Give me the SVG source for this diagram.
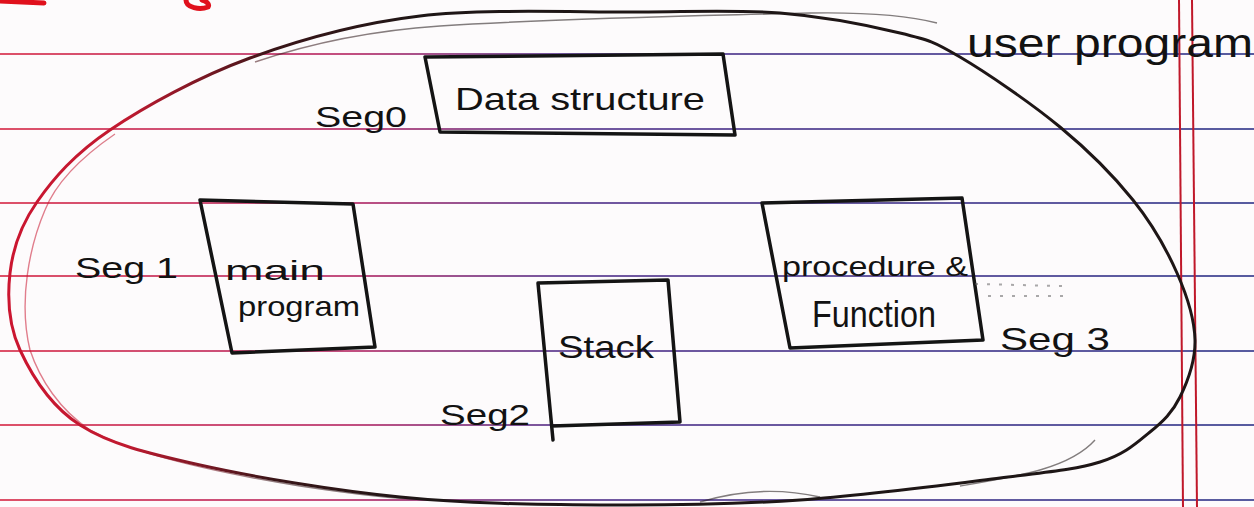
<svg xmlns="http://www.w3.org/2000/svg" width="1254" height="507" viewBox="0 0 1254 507">
  <defs>
    <linearGradient id="ruleInk" gradientUnits="userSpaceOnUse" x1="0" y1="0" x2="1254" y2="0">
      <stop offset="0" stop-color="#d8324e"/>
      <stop offset="0.28" stop-color="#b8306a"/>
      <stop offset="0.45" stop-color="#5a3a90"/>
      <stop offset="1" stop-color="#3a3f8f"/>
    </linearGradient>
    <linearGradient id="ovalInk" gradientUnits="userSpaceOnUse" x1="0" y1="0" x2="420" y2="0">
      <stop offset="0" stop-color="#cc1530"/>
      <stop offset="0.3" stop-color="#c01a30"/>
      <stop offset="0.65" stop-color="#3a1518"/>
      <stop offset="1" stop-color="#1e1616"/>
    </linearGradient>
    <style>
      .rule { stroke: url(#ruleInk); stroke-width: 2; opacity: 0.85; fill: none; }
      .margin { stroke: #c0182a; stroke-width: 2; fill: none; }
      .oval { fill: none; stroke: url(#ovalInk); stroke-width: 3; stroke-linejoin: round; }
      .oval2 { fill: none; stroke: url(#ovalInk); stroke-width: 1.4; opacity: 0.55; }
      .box { fill: none; stroke: #141414; stroke-width: 3.5; stroke-linejoin: round; stroke-linecap: round; }
      .hand { font-family: "Liberation Sans", "DejaVu Sans", sans-serif; fill: #121212; }
      .red { fill: none; stroke: #e0101c; stroke-width: 5; stroke-linecap: round; }
    </style>
  </defs>

  <!-- paper -->
  <rect x="0" y="0" width="1254" height="507" fill="#fdfbfc"/>

  <!-- ruled lines -->
  <g id="ruling">
    <line class="rule" x1="0" y1="54" x2="1254" y2="54"/>
    <line class="rule" x1="0" y1="129" x2="1254" y2="129"/>
    <line class="rule" x1="0" y1="203" x2="1254" y2="203"/>
    <line class="rule" x1="0" y1="276" x2="1254" y2="276"/>
    <line class="rule" x1="0" y1="351" x2="1254" y2="351"/>
    <line class="rule" x1="0" y1="425" x2="1254" y2="425"/>
    <line class="rule" x1="0" y1="500" x2="1254" y2="500"/>
    <line class="margin" x1="1179" y1="0" x2="1183" y2="507"/>
    <line class="margin" x1="1192" y1="0" x2="1197" y2="507"/>
  </g>

  <!-- red pen marks at the top edge -->
  <g id="red-marks">
    <path class="red" d="M0,1 L44,3"/>
    <path class="red" d="M186,0 C186,8 200,10 208,7 C210,4 206,1 202,0"/>
  </g>

  <!-- outer boundary: user program -->
  <g id="user-program">
    <path class="oval" d="M640,12 C580,12.5 485,8.3 420,16 C355,23.7 301.7,39 250,58 C198.3,77 145.5,106 110,130 C74.5,154 53.7,178.2 37,202 C20.3,225.8 12.8,248.3 10,273 C7.2,297.7 8.3,324.7 20,350 C31.7,375.3 50,405.8 80,425 C110,444.2 146.7,453 200,465 C253.3,477 333.3,490.3 400,497 C466.7,503.7 533.3,504.5 600,505 C666.7,505.5 733.3,504.5 800,500 C866.7,495.5 950,484.3 1000,478 C1050,471.7 1075,469.7 1100,462 C1125,454.3 1136.7,442.8 1150,432 C1163.3,421.2 1172.5,412.3 1180,397 C1187.5,381.7 1195.5,360.7 1195,340 C1194.5,319.3 1187.3,296.3 1177,273 C1166.7,249.7 1152.5,224.3 1133,200 C1113.5,175.7 1088.8,150.8 1060,127 C1031.2,103.2 986.7,72.7 960,57 C933.3,41.3 930,40.3 900,33 C870,25.7 823.3,16.5 780,13 C736.7,9.5 700,11.5 640,12 Z"/>
    <!-- second pass of the pen -->
    <path class="oval2" d="M255,62 C320,40 380,30 440,26 C560,18 700,16 810,13 C870,12 910,16 937,23"/>
    <path class="oval2" d="M115,134 C80,158 55,185 45,210 C30,245 18,300 30,350 C40,380 60,410 90,430 C130,452 200,470 300,486 C360,495 400,499 420,499"/>
    <path class="oval2" d="M700,502 C740,490 780,488 820,497"/>
    <path class="oval2" d="M960,486 C1020,476 1070,468 1095,440"/>
    <text class="hand" x="967" y="57" font-size="40" textLength="286" lengthAdjust="spacingAndGlyphs">user program</text>
  </g>

  <!-- segment 0 -->
  <g id="seg0">
    <path class="box" d="M425,57 L723,54 L735,135 L440,132 Z"/>
    <text class="hand" x="455" y="110" font-size="32" textLength="250" lengthAdjust="spacingAndGlyphs">Data structure</text>
    <text class="hand" x="315" y="127" font-size="30" textLength="92" lengthAdjust="spacingAndGlyphs">Seg0</text>
  </g>

  <!-- segment 1 -->
  <g id="seg1">
    <path class="box" d="M200,200 L353,204 L375,347 L232,353 Z"/>
    <text class="hand" x="225" y="280" font-size="28" textLength="100" lengthAdjust="spacingAndGlyphs">main</text>
    <text class="hand" x="238" y="316" font-size="28" textLength="122" lengthAdjust="spacingAndGlyphs">program</text>
    <text class="hand" x="75" y="278" font-size="30" textLength="103" lengthAdjust="spacingAndGlyphs">Seg 1</text>
  </g>

  <!-- segment 2 -->
  <g id="seg2">
    <path class="box" d="M553,440 L538,283 L668,280 L680,422 L552,426"/>
    <text class="hand" x="558" y="358" font-size="32" textLength="96" lengthAdjust="spacingAndGlyphs">Stack</text>
    <text class="hand" x="440" y="425" font-size="30" textLength="90" lengthAdjust="spacingAndGlyphs">Seg2</text>
  </g>

  <!-- segment 3 -->
  <g id="seg3">
    <path class="box" d="M762,203 L962,198 L983,340 L790,348 Z"/>
    <text class="hand" x="782" y="276" font-size="28" textLength="186" lengthAdjust="spacingAndGlyphs">procedure &amp;</text>
    <text class="hand" x="812" y="327" font-size="36" textLength="124" lengthAdjust="spacingAndGlyphs">Function</text>
    <text class="hand" x="1000" y="350" font-size="32" textLength="110" lengthAdjust="spacingAndGlyphs">Seg 3</text>
    <path d="M975,284 L1062,286 M988,296 L1070,296" fill="none" stroke="#555" stroke-width="2" stroke-dasharray="3 9" opacity="0.5"/>
  </g>

  <g id="connectors"/>
</svg>
